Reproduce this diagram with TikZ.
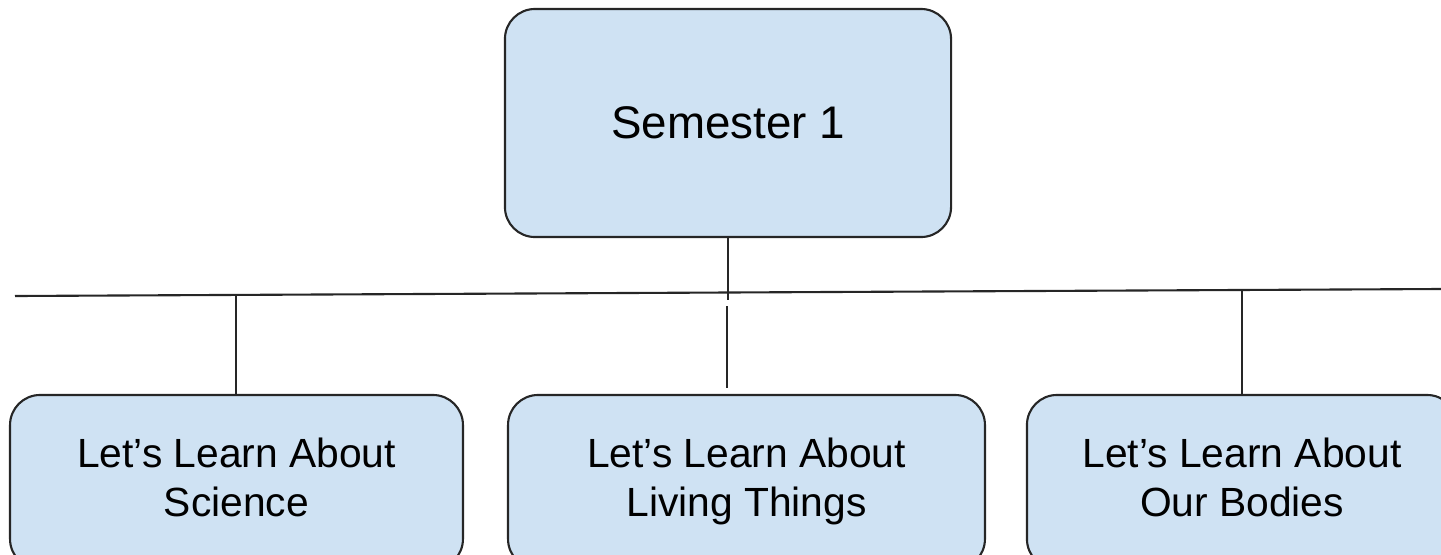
\documentclass[tikz,border=0pt]{standalone}
\usepackage{fontspec}
\setmainfont{Liberation Sans}
\usetikzlibrary{positioning}

\begin{document}
\begin{tikzpicture}[x=0.025cm,y=-0.025cm]
\tikzset{
  topicbox/.style={rectangle,draw=black!85,line width=1.5pt,fill=boxblue,
    rounded corners=0.75cm,align=center,inner sep=0pt,
    font=\fontsize{29}{35}\selectfont},
  link/.style={line width=1.5pt,draw=black!85}
}
\definecolor{boxblue}{HTML}{CFE2F3}
\useasboundingbox (0,0) rectangle (1441,554);
\clip (0,0) rectangle (1441,554);
\node[topicbox,minimum width=11.15cm,minimum height=5.7cm,font=\fontsize{32.5}{38}\selectfont] (n_sem) at (728,123) {Semester 1};
\node[topicbox,minimum width=11.32cm,minimum height=4.35cm] (n_sci) at (236.5,482) {Let’s Learn About\strut\\Science\strut};
\node[topicbox,minimum width=11.92cm,minimum height=4.35cm] (n_liv) at (746.5,482) {Let’s Learn About\strut\\Living Things\strut};
\node[topicbox,minimum width=10.75cm,minimum height=4.35cm] (n_bod) at (1242,482) {Let’s Learn About\strut\\Our Bodies\strut};
\coordinate (bar_l) at (15,296);
\coordinate (bar_r) at (1441,289);
\coordinate (tap_sci) at (236,295);
\coordinate (tap_sem) at (728,300);
\coordinate (gap_a) at (727,306);
\coordinate (gap_b) at (727,388);
\coordinate (tap_bod) at (1242,290);
\draw[link] (bar_l) -- (bar_r);
\draw[link] (n_sem.south) -- (tap_sem);
\draw[link] (gap_a) -- (gap_b);
\draw[link] (tap_sci) -- (tap_sci |- n_sci.north);
\draw[link] (tap_bod) -- (tap_bod |- n_bod.north);
\end{tikzpicture}
\end{document}
